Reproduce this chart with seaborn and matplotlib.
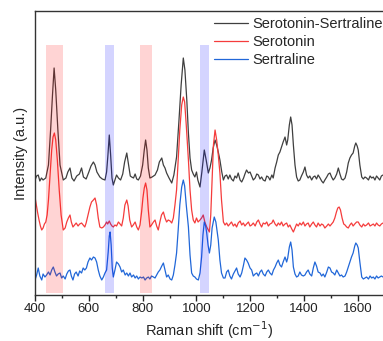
import numpy as np
import pandas as pd
import matplotlib
matplotlib.use("Agg")
import matplotlib.pyplot as plt
import seaborn as sns
from matplotlib.ticker import MultipleLocator

sns.set_style("ticks")
plt.rcParams["font.family"] = ["Liberation Sans", "DejaVu Sans"]

# Raman spectra (offset stacked, arbitrary units)
shift_mix = [400, 406, 412, 418, 424, 430, 440, 450, 458, 465,
             471, 477, 485, 493, 505, 515, 522, 530, 537, 545,
             555, 565, 573, 580, 590, 600, 608, 617, 623, 630,
             641, 650, 660, 666, 671, 676, 681, 686, 691, 697,
             703, 710, 718, 726, 733, 741, 748, 754, 759, 766,
             772, 778, 784, 792, 800, 806, 811, 816, 821, 827,
             835, 846, 855, 862, 871, 877, 883, 889, 898, 908,
             916, 926, 935, 943, 951, 957, 964, 970, 976, 982,
             988, 994, 1000, 1005, 1013, 1020, 1029, 1036, 1044, 1050,
             1056, 1062, 1069, 1075, 1081, 1087, 1094, 1100, 1106, 1112,
             1118, 1124, 1130, 1137, 1143, 1149, 1155, 1162, 1168, 1175,
             1180, 1186, 1193, 1199, 1205, 1211, 1218, 1224, 1230, 1236,
             1242, 1248, 1255, 1261, 1267, 1273, 1280, 1285, 1292, 1298,
             1304, 1310, 1316, 1322, 1329, 1335, 1339, 1345, 1350, 1355,
             1360, 1366, 1372, 1378, 1384, 1390, 1397, 1403, 1409, 1415,
             1421, 1428, 1434, 1440, 1446, 1452, 1459, 1465, 1471, 1477,
             1484, 1490, 1496, 1502, 1508, 1514, 1521, 1527, 1533, 1539,
             1545, 1552, 1558, 1564, 1570, 1576, 1582, 1588, 1592, 1597,
             1601, 1607, 1614, 1620, 1626, 1632, 1639, 1645, 1651, 1657,
             1663, 1669, 1675, 1681, 1687, 1693]
int_mix = [115, 119, 120, 114, 117, 115, 117, 130, 165, 200,
           227, 205, 165, 130, 115, 117, 123, 127, 117, 114,
           119, 121, 127, 118, 116, 123, 129, 133, 130, 123,
           118, 116, 115, 123, 140, 160, 140, 117, 110, 115,
           120, 117, 115, 121, 133, 142, 130, 119, 118, 117,
           121, 116, 115, 119, 130, 145, 155, 145, 127, 117,
           118, 120, 125, 133, 137, 130, 127, 122, 117, 112,
           120, 138, 175, 210, 237, 225, 195, 162, 137, 125,
           121, 118, 123, 115, 108, 123, 145, 135, 122, 127,
           135, 147, 155, 150, 143, 135, 123, 115, 119, 120,
           116, 120, 116, 114, 119, 117, 122, 115, 113, 117,
           121, 125, 122, 123, 119, 115, 117, 121, 120, 116,
           118, 115, 114, 119, 118, 115, 120, 117, 127, 133,
           140, 143, 148, 153, 158, 150, 155, 170, 178, 170,
           150, 130, 118, 114, 115, 119, 123, 128, 120, 117,
           119, 115, 118, 119, 116, 120, 117, 114, 112, 115,
           118, 121, 122, 118, 115, 117, 121, 127, 121, 116,
           115, 117, 123, 132, 137, 140, 142, 149, 152, 149,
           145, 130, 118, 116, 118, 117, 115, 119, 117, 118,
           115, 119, 117, 115, 119, 120]

shift_sero = [400, 405, 410, 415, 420, 425, 430, 435, 440, 445,
              450, 456, 462, 467, 472, 477, 483, 490, 497, 505,
              512, 518, 524, 530, 535, 541, 547, 553, 560, 566,
              573, 579, 585, 590, 597, 604, 610, 617, 623, 629,
              635, 641, 648, 654, 660, 666, 670, 676, 681, 686,
              691, 697, 703, 710, 716, 722, 728, 734, 741, 746,
              752, 759, 765, 772, 778, 784, 790, 796, 801, 806,
              811, 816, 821, 827, 833, 840, 846, 852, 858, 864,
              870, 877, 883, 889, 895, 902, 908, 914, 920, 926,
              932, 938, 945, 951, 956, 962, 970, 976, 982, 988,
              994, 1000, 1006, 1013, 1019, 1025, 1031, 1038, 1044, 1048,
              1053, 1058, 1063, 1069, 1075, 1081, 1087, 1093, 1100, 1106,
              1112, 1118, 1124, 1130, 1137, 1143, 1149, 1155, 1162, 1168,
              1174, 1180, 1186, 1193, 1199, 1205, 1211, 1218, 1224, 1230,
              1236, 1242, 1248, 1255, 1261, 1267, 1273, 1280, 1285, 1292,
              1298, 1304, 1310, 1316, 1322, 1329, 1335, 1341, 1347, 1354,
              1360, 1366, 1372, 1378, 1384, 1390, 1397, 1403, 1409, 1415,
              1421, 1428, 1434, 1440, 1446, 1452, 1459, 1465, 1471, 1477,
              1484, 1490, 1496, 1502, 1508, 1514, 1520, 1525, 1530, 1535,
              1541, 1547, 1552, 1558, 1564, 1570, 1576, 1582, 1588, 1595,
              1601, 1607, 1614, 1620, 1626, 1632, 1639, 1645, 1651, 1657,
              1663, 1669, 1675, 1681, 1687, 1693]
int_sero = [98, 90, 82, 75, 69, 65, 67, 71, 73, 80,
            95, 120, 145, 158, 162, 155, 135, 105, 80, 65,
            67, 73, 77, 80, 73, 68, 70, 72, 69, 71,
            72, 70, 68, 72, 80, 88, 93, 95, 97, 90,
            77, 68, 67, 68, 70, 73, 71, 74, 71, 69,
            68, 70, 69, 73, 71, 69, 77, 90, 95, 89,
            75, 68, 70, 73, 68, 65, 70, 83, 97, 107,
            112, 105, 85, 68, 70, 73, 75, 69, 65, 73,
            80, 83, 77, 73, 75, 74, 72, 77, 90, 105,
            135, 165, 190, 198, 193, 170, 135, 105, 85, 75,
            72, 77, 73, 75, 77, 80, 73, 68, 65, 63,
            80, 115, 150, 165, 155, 140, 122, 95, 73, 70,
            72, 69, 71, 73, 69, 71, 68, 72, 74, 70,
            72, 69, 71, 73, 69, 70, 72, 69, 73, 75,
            71, 68, 72, 71, 73, 69, 71, 72, 75, 71,
            69, 72, 70, 73, 69, 71, 72, 68, 70, 66,
            63, 67, 71, 69, 72, 70, 73, 69, 71, 72,
            68, 71, 73, 70, 68, 72, 69, 71, 70, 67,
            69, 71, 69, 71, 73, 77, 83, 87, 88, 85,
            77, 71, 70, 68, 67, 70, 72, 69, 71, 73,
            73, 70, 68, 71, 69, 70, 72, 69, 70, 71,
            69, 72, 70, 69, 71, 72]

shift_sert = [400, 406, 412, 418, 425, 430, 437, 443, 450, 456,
              462, 468, 474, 480, 486, 493, 499, 505, 512, 518,
              524, 530, 535, 541, 547, 553, 560, 566, 573, 579,
              585, 591, 597, 604, 610, 617, 623, 629, 635, 641,
              648, 654, 660, 666, 672, 676, 679, 683, 687, 691,
              697, 703, 710, 716, 722, 728, 735, 741, 747, 753,
              759, 766, 772, 778, 784, 790, 797, 803, 809, 815,
              821, 827, 833, 840, 846, 852, 858, 864, 871, 877,
              883, 889, 895, 902, 908, 914, 920, 926, 932, 938,
              945, 951, 956, 962, 970, 976, 982, 988, 994, 1000,
              1007, 1013, 1019, 1024, 1029, 1034, 1038, 1043, 1048, 1053,
              1058, 1066, 1072, 1081, 1087, 1093, 1100, 1106, 1112, 1118,
              1124, 1130, 1137, 1143, 1149, 1155, 1162, 1168, 1174, 1180,
              1186, 1192, 1199, 1205, 1211, 1218, 1224, 1230, 1236, 1242,
              1248, 1255, 1261, 1267, 1273, 1280, 1286, 1292, 1298, 1304,
              1310, 1316, 1322, 1329, 1335, 1339, 1345, 1350, 1355, 1360,
              1366, 1372, 1378, 1384, 1390, 1397, 1403, 1409, 1415, 1421,
              1428, 1434, 1440, 1446, 1452, 1459, 1465, 1471, 1477, 1484,
              1490, 1496, 1502, 1508, 1514, 1521, 1527, 1533, 1539, 1545,
              1552, 1558, 1564, 1570, 1576, 1582, 1588, 1592, 1597, 1601,
              1607, 1614, 1620, 1626, 1632, 1639, 1645, 1651, 1657, 1663,
              1669, 1675, 1681, 1687, 1693]
int_sert = [15, 20, 27, 19, 15, 21, 18, 20, 23, 20,
            25, 28, 23, 19, 21, 22, 17, 19, 16, 21,
            24, 25, 19, 15, 21, 23, 19, 24, 22, 27,
            25, 27, 33, 37, 35, 38, 37, 33, 25, 19,
            15, 18, 22, 25, 43, 59, 63, 50, 27, 18,
            25, 33, 31, 28, 23, 25, 20, 22, 19, 22,
            18, 20, 17, 19, 16, 18, 17, 18, 15, 17,
            18, 16, 19, 18, 17, 20, 23, 25, 29, 32,
            25, 18, 20, 16, 15, 20, 30, 42, 65, 90,
            108, 115, 109, 90, 68, 40, 22, 19, 18, 16,
            15, 22, 38, 60, 73, 69, 62, 50, 42, 50,
            67, 78, 73, 55, 35, 22, 17, 17, 23, 25,
            19, 16, 21, 24, 27, 21, 18, 22, 29, 37,
            35, 32, 27, 25, 19, 21, 22, 19, 23, 25,
            21, 19, 23, 25, 22, 20, 25, 28, 32, 35,
            30, 28, 33, 38, 33, 37, 48, 53, 45, 28,
            21, 18, 19, 23, 20, 19, 20, 23, 25, 21,
            19, 27, 33, 29, 23, 22, 19, 21, 18, 23,
            28, 27, 23, 22, 20, 25, 22, 19, 20, 18,
            19, 23, 28, 33, 38, 42, 49, 52, 50, 47,
            33, 18, 16, 17, 18, 16, 19, 17, 18, 16,
            19, 17, 18, 19, 18]

# highlighted bands (cm-1)
red_bands = [(441, 505), (790, 835)]
blue_bands = [(660, 693), (1013, 1046)]

series = [
    ("Serotonin-Sertraline", shift_mix, int_mix, "#3f3f3f"),
    ("Serotonin", shift_sero, int_sero, "#f53c3c"),
    ("Sertraline", shift_sert, int_sert, "#2167d8"),
]

fig = plt.figure(figsize=(3.83, 3.41), dpi=100)
ax = fig.add_axes([35 / 383, 46 / 341, 348 / 383, 284 / 341])

for name, xs, ys, color in series:
    df = pd.DataFrame({"shift": xs, "intensity": ys})
    sns.lineplot(data=df, x="shift", y="intensity", ax=ax, color=color,
                 linewidth=0.9, sort=False, estimator=None, label=name)

for x0, x1 in red_bands:
    ax.axvspan(x0, x1, ymin=0.007, ymax=0.88, color="#ff0000", alpha=0.17,
               lw=0, zorder=5)
for x0, x1 in blue_bands:
    ax.axvspan(x0, x1, ymin=0.007, ymax=0.88, color="#0000ff", alpha=0.17,
               lw=0, zorder=5)

ax.set_xlim(400, 1693)
ax.set_ylim(0, 284)
ax.set_yticks([])
ax.xaxis.set_major_locator(MultipleLocator(200))
ax.xaxis.set_minor_locator(MultipleLocator(100))
ax.tick_params(axis="x", which="major", direction="out", length=4, width=1,
               labelsize=9.5, pad=2, colors="#222222")
ax.tick_params(axis="x", which="minor", direction="out", length=2, width=1)
for side in ["left", "bottom", "top"]:
    ax.spines[side].set_linewidth(1)
    ax.spines[side].set_color("#333333")
ax.spines["right"].set_visible(False)

ax.set_xlabel("Raman shift (cm$^{-1}$)", fontsize=10.5, labelpad=3)
ax.set_ylabel("Intensity (a.u.)", fontsize=10.5, labelpad=5)

ax.legend(loc="upper left", bbox_to_anchor=(214 / 383, 1 - 17 / 341),
          bbox_transform=fig.transFigure, frameon=False, fontsize=10.5,
          handlelength=2.3, handletextpad=0.3, labelspacing=0.28,
          borderpad=0, borderaxespad=0)

fig.savefig("out.png", dpi=100)
plt.close(fig)
